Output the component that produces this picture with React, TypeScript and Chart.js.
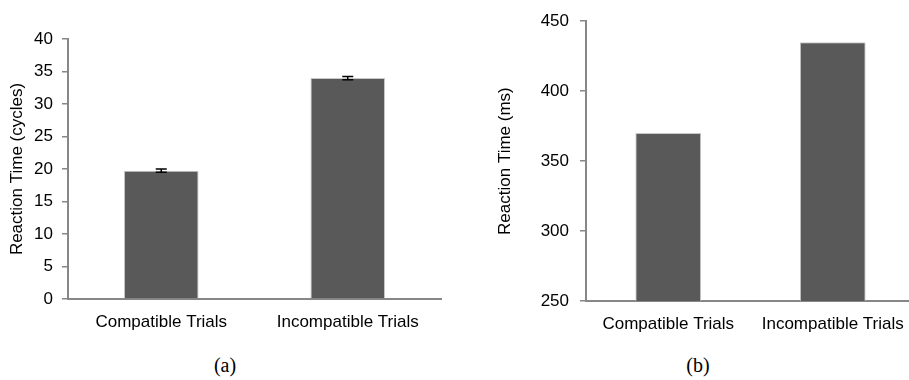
import React, { useEffect, useRef } from "react";
import { Chart, registerables } from "chart.js";

Chart.register(...registerables);

const categories = ["Compatible Trials", "Incompatible Trials"];
const cyclesValues = [19.75, 34.0];
const cyclesErrors = [0.25, 0.25];
const msValues = [370, 435];
const cyclesTicks = { min: 0, max: 40, step: 5 };
const msTicks = { min: 250, max: 450, step: 50 };

const FONT = "'Liberation Sans', Arial, sans-serif";
const AXIS = "#878787";
const BAR = "#595959";

type PanelProps = {
  left: number;
  width: number;
  height: number;
  values: number[];
  errors?: number[];
  range: { min: number; max: number; step: number };
  title: string;
  yWidth: number;
  xHeight: number;
  pad: { left: number; right: number; top: number; bottom: number };
  yLabelPad: number;
};

const errorBarPlugin = {
  id: "errorBars",
  afterDatasetsDraw(chart: any) {
    const errs = chart.options.plugins.errorBars?.errors as number[] | undefined;
    if (!errs) return;
    const meta = chart.getDatasetMeta(0);
    const y = chart.scales.y;
    const vals = chart.data.datasets[0].data as number[];
    const ctx = chart.ctx;
    ctx.save();
    ctx.strokeStyle = "#000";
    ctx.lineWidth = 1.5;
    meta.data.forEach((bar: any, i: number) => {
      const top = y.getPixelForValue(vals[i] + errs[i]);
      const bot = y.getPixelForValue(vals[i] - errs[i]);
      ctx.beginPath();
      ctx.moveTo(bar.x, top);
      ctx.lineTo(bar.x, bot);
      ctx.moveTo(bar.x - 5.5, top);
      ctx.lineTo(bar.x + 5.5, top);
      ctx.moveTo(bar.x - 5.5, bot);
      ctx.lineTo(bar.x + 5.5, bot);
      ctx.stroke();
    });
    ctx.restore();
  },
};

function Panel(p: PanelProps) {
  const ref = useRef<HTMLCanvasElement>(null);
  useEffect(() => {
    if (!ref.current) return;
    const chart = new Chart(ref.current, {
      type: "bar",
      data: {
        labels: categories,
        datasets: [
          {
            data: p.values,
            backgroundColor: BAR,
            borderColor: "#c8c8c8",
            borderWidth: 1,
            barPercentage: 0.4,
            categoryPercentage: 1,
          },
        ],
      },
      plugins: [errorBarPlugin],
      options: {
        animation: false,
        responsive: false,
        devicePixelRatio: 1,
        layout: { padding: p.pad },
        plugins: {
          legend: { display: false },
          tooltip: { enabled: false },
          errorBars: { errors: p.errors },
        } as any,
        scales: {
          x: {
            afterFit: (s: any) => {
              s.height = p.xHeight;
            },
            grid: { display: false, drawTicks: false },
            border: { display: true, color: AXIS, width: 2 },
            ticks: {
              color: "#000",
              padding: 13,
              maxRotation: 0,
              font: { family: FONT, size: 17 },
            },
          },
          y: {
            min: p.range.min,
            max: p.range.max,
            afterFit: (s: any) => {
              s.width = p.yWidth;
            },
            grid: {
              drawOnChartArea: false,
              drawTicks: true,
              tickLength: 6,
              color: AXIS,
              lineWidth: 1.5,
            },
            border: { display: true, color: AXIS, width: 2 },
            ticks: {
              stepSize: p.range.step,
              color: "#000",
              padding: p.yLabelPad,
              font: { family: FONT, size: 17 },
            },
            title: {
              display: true,
              text: p.title,
              color: "#000",
              padding: { top: 7, bottom: 0 },
              font: { family: FONT, size: 17 },
            },
          },
        },
      },
    });
    return () => chart.destroy();
  }, []);
  return (
    <canvas
      ref={ref}
      width={p.width}
      height={p.height}
      style={{ position: "absolute", left: p.left, top: 0, width: p.width, height: p.height }}
    />
  );
}

const captionStyle: React.CSSProperties = {
  position: "absolute",
  top: 354,
  width: 60,
  textAlign: "center",
  fontFamily: "'Liberation Serif', serif",
  fontSize: 20,
  lineHeight: "23px",
  color: "#000",
};

export default function App() {
  return (
    <div
      style={{
        position: "absolute",
        left: 0,
        top: 0,
        width: 909,
        height: 380,
        overflow: "hidden",
        background: "#fff",
      }}
    >
      <Panel
        left={0}
        width={450}
        height={340}
        values={cyclesValues}
        errors={cyclesErrors}
        range={cyclesTicks}
        title="Reaction Time (cycles)"
        yWidth={68}
        xHeight={41}
        pad={{ left: 0, right: 9, top: 39, bottom: 0 }}
        yLabelPad={9}
      />
      <Panel
        left={488}
        width={437}
        height={340}
        values={msValues}
        range={msTicks}
        title="Reaction Time (ms)"
        yWidth={98}
        xHeight={39}
        pad={{ left: 0, right: 10, top: 16, bottom: 0 }}
        yLabelPad={11}
      />
      <div style={{ ...captionStyle, left: 195 }}>(a)</div>
      <div style={{ ...captionStyle, left: 668 }}>(b)</div>
    </div>
  );
}
